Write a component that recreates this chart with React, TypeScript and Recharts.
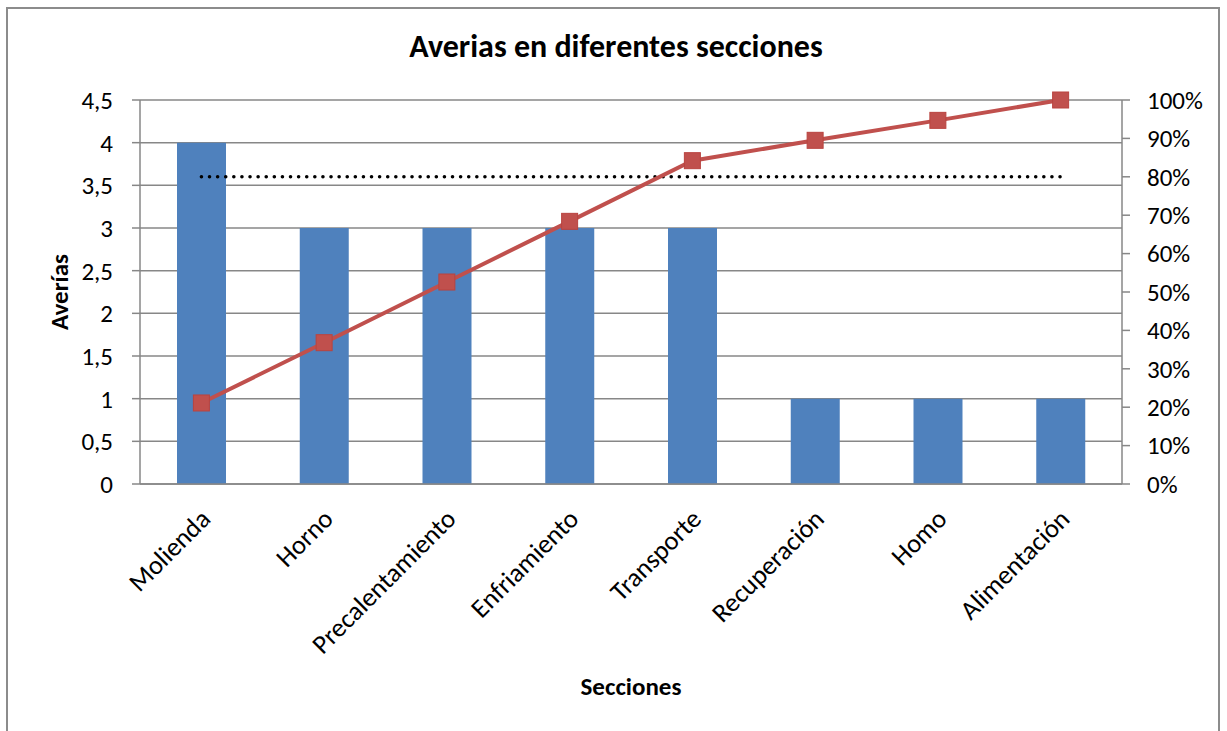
import { ComposedChart, Bar, Line, XAxis, YAxis, CartesianGrid, Label } from "recharts";

const categories = [
  "Molienda",
  "Horno",
  "Precalentamiento",
  "Enfriamiento",
  "Transporte",
  "Recuperación",
  "Homo",
  "Alimentación",
];
const averias = [4, 3, 3, 3, 3, 1, 1, 1];
const acumulado = [0.211, 0.368, 0.526, 0.684, 0.842, 0.895, 0.947, 1.0];
const limite = [0.8, 0.8, 0.8, 0.8, 0.8, 0.8, 0.8, 0.8];
const leftTicks = [0, 0.5, 1, 1.5, 2, 2.5, 3, 3.5, 4, 4.5];
const rightTicks = [0, 0.1, 0.2, 0.3, 0.4, 0.5, 0.6, 0.7, 0.8, 0.9, 1];

const data = categories.map((name, i) => ({
  name,
  averias: averias[i],
  acumulado: acumulado[i],
  limite: limite[i],
}));

const FONT = "Carlito, Calibri, Lato, sans-serif";
const AXIS = "#878787";
const TICK_SIZE = 25;

function CategoryTick({ x, y, payload }: any) {
  return (
    <g transform={`translate(${x + 4},${y + 30}) rotate(-45)`}>
      <text textAnchor="end" dy="0.35em" fontSize={26.5} fontFamily={FONT} fill="#000">
        {payload.value}
      </text>
    </g>
  );
}

function SquareDot({ cx, cy }: any) {
  if (cx == null || cy == null) return null;
  return <rect x={cx - 8} y={cy - 8} width={16} height={16} fill="#C0504D" stroke="#B9433F" strokeWidth={1} />;
}

export default function App() {
  return (
    <div style={{ position: "absolute", left: 0, top: 0, width: 1227, height: 731, overflow: "hidden", background: "#fff" }}>
      <div
        style={{
          position: "absolute",
          left: 6,
          top: 7,
          width: 1214,
          height: 760,
          border: "2px solid #8c8c8c",
          boxSizing: "border-box",
        }}
      />
      <div
        style={{
          position: "absolute",
          left: 0,
          top: 31,
          width: 1232,
          textAlign: "center",
          fontFamily: FONT,
          fontWeight: 700,
          fontSize: 32,
          lineHeight: "31px",
          color: "#000",
        }}
      >
        Averias en diferentes secciones
      </div>
      <div style={{ position: "absolute", left: 0, top: 0 }}>
        <ComposedChart
          width={1227}
          height={731}
          data={data}
          margin={{ top: 100, right: 20, bottom: 67, left: 70 }}
        >
          <CartesianGrid yAxisId="left" vertical={false} stroke={AXIS} strokeWidth={1.5} />
          <XAxis
            dataKey="name"
            height={180}
            tickLine={false}
            tickSize={0}
            tickMargin={0}
            axisLine={{ stroke: AXIS, strokeWidth: 1.5 }}
            tick={<CategoryTick />}
            interval={0}
          >
            <Label
              content={({ viewBox }: any) => (
                <text
                  x={viewBox.x + viewBox.width / 2}
                  y={686}
                  dy="0.35em"
                  textAnchor="middle"
                  fontFamily={FONT}
                  fontWeight={700}
                  fontSize={25}
                  fill="#000"
                >
                  Secciones
                </text>
              )}
            />
          </XAxis>
          <YAxis
            yAxisId="left"
            width={70}
            domain={[0, 4.5]}
            ticks={leftTicks}
            tickSize={8}
            tickMargin={19}
            tickLine={{ stroke: AXIS, strokeWidth: 1.5 }}
            axisLine={{ stroke: AXIS, strokeWidth: 1.5 }}
            tick={{ fontFamily: FONT, fontSize: TICK_SIZE, fill: "#000" }}
            tickFormatter={(v) => String(v).replace(".", ",")}
          >
            <Label
              content={({ viewBox }: any) => {
                const cy = viewBox.y + viewBox.height / 2;
                return (
                  <text
                    x={68}
                    y={cy}
                    transform={`rotate(-90, 68, ${cy})`}
                    textAnchor="middle"
                    fontFamily={FONT}
                    fontWeight={700}
                    fontSize={25}
                    fill="#000"
                  >
                    Averías
                  </text>
                );
              }}
            />
          </YAxis>
          <YAxis
            yAxisId="right"
            orientation="right"
            width={85}
            domain={[0, 1]}
            ticks={rightTicks}
            tickSize={8}
            tickMargin={17}
            tickLine={{ stroke: AXIS, strokeWidth: 1.5 }}
            axisLine={{ stroke: AXIS, strokeWidth: 1.5 }}
            tick={{ fontFamily: FONT, fontSize: TICK_SIZE, fill: "#000", textAnchor: "start" }}
            tickFormatter={(v) => `${Math.round(v * 100)}%`}
          />
          <Bar yAxisId="left" dataKey="averias" fill="#4F81BD" barSize={49} isAnimationActive={false} />
          <Line
            yAxisId="right"
            dataKey="limite"
            stroke="#000"
            strokeWidth={3.5}
            strokeDasharray="0.1 8"
            strokeLinecap="round"
            dot={false}
            activeDot={false}
            isAnimationActive={false}
          />
          <Line
            yAxisId="right"
            dataKey="acumulado"
            stroke="#C0504D"
            strokeWidth={4}
            dot={<SquareDot />}
            activeDot={false}
            isAnimationActive={false}
          />
        </ComposedChart>
      </div>
    </div>
  );
}
